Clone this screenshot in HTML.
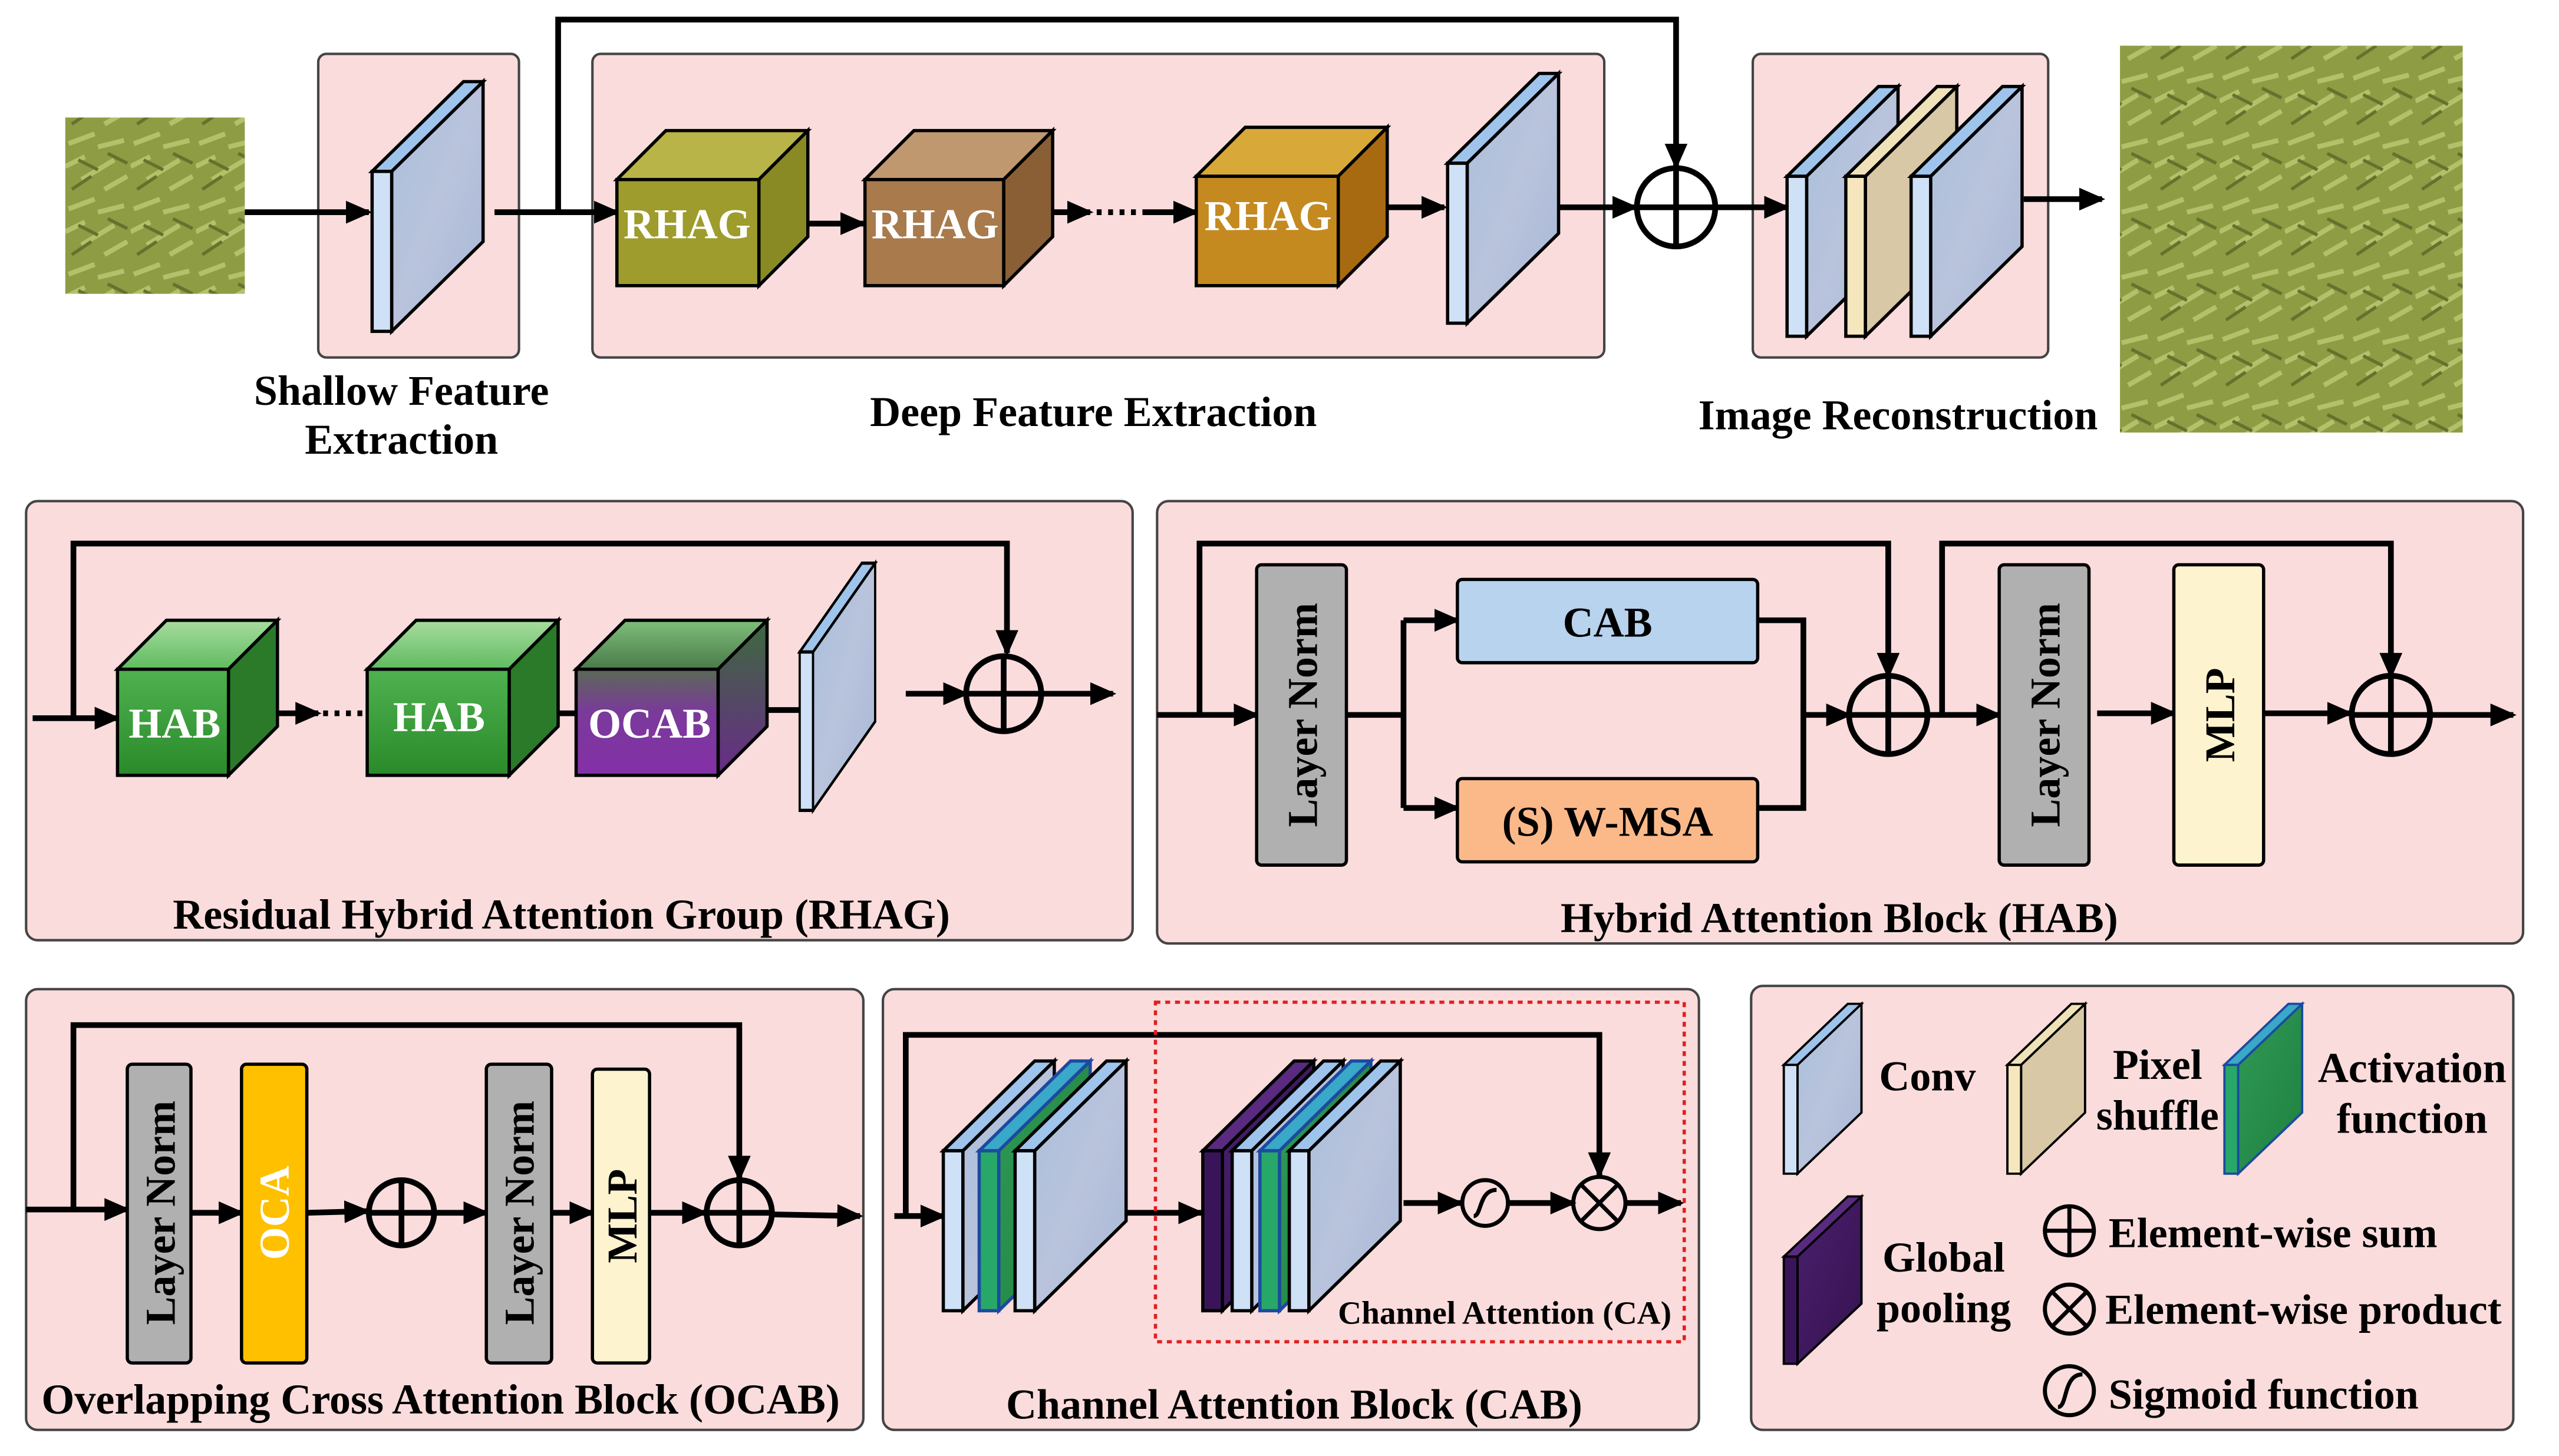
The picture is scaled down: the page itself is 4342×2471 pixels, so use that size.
<!DOCTYPE html>
<html><head><meta charset="utf-8"><style>
html,body{margin:0;padding:0;background:#fff;}
svg{display:block;}
text{font-family:"Liberation Serif",serif;font-weight:bold;fill:#000;}
</style></head><body>
<svg width="4342" height="2471" viewBox="0 0 1568 892" preserveAspectRatio="none" xmlns="http://www.w3.org/2000/svg">
<defs>
<marker id="ar" markerWidth="16" markerHeight="14" refX="14" refY="7" orient="auto" markerUnits="userSpaceOnUse"><path d="M0,0 L16,7 L0,14 z" fill="#000"/></marker>
<linearGradient id="blueSide" x1="0" y1="0" x2="1" y2="1"><stop offset="0" stop-color="#a9bfdc"/><stop offset="0.5" stop-color="#b9c3dc"/><stop offset="1" stop-color="#a8b8d6"/></linearGradient>
<linearGradient id="greenSide" x1="0" y1="0" x2="1" y2="1"><stop offset="0" stop-color="#2f9a55"/><stop offset="1" stop-color="#1f8040"/></linearGradient>
<linearGradient id="purpSide" x1="0" y1="0" x2="1" y2="1"><stop offset="0" stop-color="#4a1f6e"/><stop offset="1" stop-color="#36124f"/></linearGradient>
<linearGradient id="hab" x1="0" y1="0" x2="0" y2="1"><stop offset="0" stop-color="#4fb14f"/><stop offset="1" stop-color="#2a8a2a"/></linearGradient>
<linearGradient id="habTop" x1="0" y1="0" x2="0" y2="1"><stop offset="0" stop-color="#a8dca0"/><stop offset="1" stop-color="#5fbb5f"/></linearGradient>
<linearGradient id="ocabTop" x1="0" y1="0" x2="0" y2="1"><stop offset="0" stop-color="#7fbf7a"/><stop offset="1" stop-color="#4a7a4a"/></linearGradient>
<linearGradient id="ocabFront" x1="0" y1="0" x2="0" y2="1"><stop offset="0" stop-color="#5a6a55"/><stop offset="0.4" stop-color="#7a3a9a"/><stop offset="1" stop-color="#8430a8"/></linearGradient>
<linearGradient id="ocabSide" x1="0" y1="0" x2="0" y2="1"><stop offset="0" stop-color="#3c6a3c"/><stop offset="1" stop-color="#6a2a8a"/></linearGradient>
<g id="pBlue"><polygon points="12,55 68,0 68,98 12,153" fill="url(#blueSide)" stroke="#000" stroke-width="2"/><polygon points="0,55 56,0 68,0 12,55" fill="#9ec4ec" stroke="#000" stroke-width="2"/><rect x="0" y="55" width="12" height="98" fill="#cfe1f6" stroke="#000" stroke-width="2"/></g>
<g id="pBeige"><polygon points="12,55 68,0 68,98 12,153" fill="#d8c8a6" stroke="#000" stroke-width="2"/><polygon points="0,55 56,0 68,0 12,55" fill="#f0e2b8" stroke="#000" stroke-width="2"/><rect x="0" y="55" width="12" height="98" fill="#f5e6bd" stroke="#000" stroke-width="2"/></g>
<g id="pGreen"><polygon points="12,55 68,0 68,98 12,153" fill="url(#greenSide)" stroke="#1c4aa0" stroke-width="2"/><polygon points="0,55 56,0 68,0 12,55" fill="#3aa8c8" stroke="#1c4aa0" stroke-width="2"/><rect x="0" y="55" width="12" height="98" fill="#28a868" stroke="#1c4aa0" stroke-width="2"/></g>
<g id="pPurp"><polygon points="12,55 68,0 68,98 12,153" fill="url(#purpSide)" stroke="#000" stroke-width="2"/><polygon points="0,55 56,0 68,0 12,55" fill="#5a2a80" stroke="#000" stroke-width="2"/><rect x="0" y="55" width="12" height="98" fill="#3a1458" stroke="#000" stroke-width="2"/></g>
<pattern id="grass" width="40" height="40" patternUnits="userSpaceOnUse"><rect width="40" height="40" fill="#8e9c44"/><path d="M2,8 L18,2 M10,30 L30,18 M24,36 L38,28 M0,22 L12,16 M20,10 L36,6" stroke="#b4c06a" stroke-width="3"/><path d="M4,36 L16,28 M26,14 L38,20 M8,18 L20,24" stroke="#65722e" stroke-width="2"/></pattern>
</defs>

<g stroke="#444" stroke-width="1.5" fill="#fadcdc">
<rect x="195" y="33" width="123" height="186" rx="5"/>
<rect x="363" y="33" width="620" height="186" rx="5"/>
<rect x="1074" y="33" width="181" height="186" rx="5"/>
<rect x="16" y="307" width="678" height="269" rx="7"/>
<rect x="709" y="307" width="837" height="271" rx="7"/>
<rect x="16" y="606" width="513" height="270" rx="7"/>
<rect x="541" y="606" width="500" height="270" rx="7"/>
<rect x="1073" y="604" width="467" height="272" rx="7"/>
</g>

<rect x="40" y="72" width="110" height="108" fill="url(#grass)"/>
<rect x="1299" y="28" width="210" height="237" fill="url(#grass)"/>

<g stroke="#000" stroke-width="3.5" fill="none">
<line x1="150" y1="130" x2="226" y2="130" marker-end="url(#ar)"/>
<line x1="303" y1="130" x2="378" y2="130" marker-end="url(#ar)"/>
<polyline points="342,130 342,12 1027,12 1027,102" marker-end="url(#ar)"/>
<line x1="465" y1="137" x2="529" y2="137" marker-end="url(#ar)"/>
<line x1="645" y1="130" x2="668" y2="130" marker-end="url(#ar)"/>
<line x1="672" y1="130" x2="700" y2="130" stroke-dasharray="3,4"/>
<line x1="700" y1="130" x2="733" y2="130" marker-end="url(#ar)"/>
<line x1="850" y1="127" x2="885" y2="127" marker-end="url(#ar)"/>
<line x1="953" y1="127" x2="1002" y2="127" marker-end="url(#ar)"/>
<circle cx="1027" cy="127" r="24"/><line x1="1003" y1="127" x2="1051" y2="127"/><line x1="1027" y1="103" x2="1027" y2="151"/>
<line x1="1051" y1="127" x2="1095" y2="127" marker-end="url(#ar)"/>
<line x1="1240" y1="122" x2="1288" y2="122" marker-end="url(#ar)"/>

<line x1="20" y1="440" x2="72" y2="440" marker-end="url(#ar)"/>
<polyline points="45,440 45,333 617,333 617,400" marker-end="url(#ar)"/>
<line x1="170" y1="437" x2="195" y2="437" marker-end="url(#ar)"/>
<line x1="198" y1="437" x2="222" y2="437" stroke-dasharray="3,4"/>
<line x1="342" y1="437" x2="353" y2="437"/>
<line x1="470" y1="435" x2="490" y2="435"/>
<line x1="555" y1="425" x2="592" y2="425" marker-end="url(#ar)"/>
<circle cx="615" cy="425" r="23"/><line x1="592" y1="425" x2="638" y2="425"/><line x1="615" y1="402" x2="615" y2="448"/>
<line x1="638" y1="425" x2="682" y2="425" marker-end="url(#ar)"/>

<line x1="709" y1="438" x2="770" y2="438" marker-end="url(#ar)"/>
<polyline points="735,438 735,333 1157,333 1157,414" marker-end="url(#ar)"/>
<line x1="825" y1="438" x2="860" y2="438"/>
<polyline points="860,380 860,495"/>
<line x1="860" y1="380" x2="893" y2="380" marker-end="url(#ar)"/>
<line x1="860" y1="495" x2="893" y2="495" marker-end="url(#ar)"/>
<polyline points="1077,380 1105,380 1105,495 1077,495"/>
<line x1="1105" y1="438" x2="1133" y2="438" marker-end="url(#ar)"/>
<circle cx="1157" cy="438" r="24"/><line x1="1133" y1="438" x2="1181" y2="438"/><line x1="1157" y1="414" x2="1157" y2="462"/>
<line x1="1181" y1="438" x2="1225" y2="438" marker-end="url(#ar)"/>
<polyline points="1190,438 1190,333 1465,333 1465,414" marker-end="url(#ar)"/>
<line x1="1285" y1="437" x2="1332" y2="437" marker-end="url(#ar)"/>
<line x1="1387" y1="437" x2="1440" y2="437" marker-end="url(#ar)"/>
<circle cx="1465" cy="438" r="24"/><line x1="1441" y1="438" x2="1489" y2="438"/><line x1="1465" y1="414" x2="1465" y2="462"/>
<line x1="1489" y1="438" x2="1540" y2="438" marker-end="url(#ar)"/>

<line x1="16" y1="741" x2="78" y2="741" marker-end="url(#ar)"/>
<polyline points="45,741 45,628 453,628 453,722" marker-end="url(#ar)"/>
<line x1="117" y1="743" x2="148" y2="743" marker-end="url(#ar)"/>
<line x1="188" y1="743" x2="225" y2="742" marker-end="url(#ar)"/>
<circle cx="246" cy="743" r="20"/><line x1="226" y1="743" x2="266" y2="743"/><line x1="246" y1="723" x2="246" y2="763"/>
<line x1="266" y1="743" x2="298" y2="743" marker-end="url(#ar)"/>
<line x1="338" y1="743" x2="363" y2="743" marker-end="url(#ar)"/>
<line x1="398" y1="743" x2="432" y2="743" marker-end="url(#ar)"/>
<circle cx="453" cy="743" r="20"/><line x1="433" y1="743" x2="473" y2="743"/><line x1="453" y1="723" x2="453" y2="763"/>
<line x1="473" y1="744" x2="527" y2="745" marker-end="url(#ar)"/>

<polyline points="555,745 555,634 980,634 980,720" marker-end="url(#ar)"/>
<line x1="548" y1="745" x2="578" y2="745" marker-end="url(#ar)"/>
<line x1="690" y1="743" x2="736" y2="743" marker-end="url(#ar)"/>
<line x1="860" y1="737" x2="895" y2="737" marker-end="url(#ar)"/>
<line x1="925" y1="737" x2="964" y2="737" marker-end="url(#ar)"/>
<line x1="996" y1="737" x2="1030" y2="737" marker-end="url(#ar)"/>
</g>
<g stroke="#000" stroke-width="2.5" fill="none">
<circle cx="910" cy="737" r="14"/><path d="M903,745 C908,745 906,729 917,729"/>
<circle cx="980" cy="737" r="16"/><line x1="969" y1="726" x2="991" y2="748"/><line x1="991" y1="726" x2="969" y2="748"/>
</g>
<rect x="708" y="614" width="324" height="208" fill="none" stroke="#e02020" stroke-width="2" stroke-dasharray="3,3"/>

<use href="#pBlue" transform="translate(228,50)"/>
<use href="#pBlue" transform="translate(887,45)"/>
<use href="#pBlue" transform="translate(1095,53)"/>
<use href="#pBeige" transform="translate(1131,53)"/>
<use href="#pBlue" transform="translate(1171,53)"/>
<use href="#pBlue" transform="translate(490,345) scale(0.68,0.99)"/>
<use href="#pBlue" transform="translate(578,650)"/>
<use href="#pGreen" transform="translate(600,650)"/>
<use href="#pBlue" transform="translate(622,650)"/>
<use href="#pPurp" transform="translate(737,650)"/>
<use href="#pBlue" transform="translate(755,650)"/>
<use href="#pGreen" transform="translate(772,650)"/>
<use href="#pBlue" transform="translate(790,650)"/>
<use href="#pBlue" transform="translate(1093,615) scale(0.7,0.68)"/>
<use href="#pBeige" transform="translate(1230,615) scale(0.7,0.68)"/>
<use href="#pGreen" transform="translate(1363,615) scale(0.7,0.68)"/>
<use href="#pPurp" transform="translate(1093,733) scale(0.7,0.67)"/>

<g stroke="#000" stroke-width="2">
<polygon points="378,110 408,80 495,80 465,110" fill="#b8b448"/>
<polygon points="465,110 495,80 495,145 465,175" fill="#8a8a24"/>
<rect x="378" y="110" width="87" height="65" fill="#9e9c2c"/>
<polygon points="530,110 560,80 645,80 615,110" fill="#c09870"/>
<polygon points="615,110 645,80 645,145 615,175" fill="#8a5f35"/>
<rect x="530" y="110" width="85" height="65" fill="#a87a4c"/>
<polygon points="733,108 763,78 850,78 820,108" fill="#d8a838"/>
<polygon points="820,108 850,78 850,145 820,175" fill="#a86a10"/>
<rect x="733" y="108" width="87" height="67" fill="#c48a20"/>
<polygon points="72,410 102,380 170,380 140,410" fill="url(#habTop)"/>
<polygon points="140,410 170,380 170,445 140,475" fill="#2a7a2a"/>
<rect x="72" y="410" width="68" height="65" fill="url(#hab)"/>
<polygon points="225,410 255,380 342,380 312,410" fill="url(#habTop)"/>
<polygon points="312,410 342,380 342,445 312,475" fill="#2a7a2a"/>
<rect x="225" y="410" width="87" height="65" fill="url(#hab)"/>
<polygon points="353,410 383,380 470,380 440,410" fill="url(#ocabTop)"/>
<polygon points="440,410 470,380 470,445 440,475" fill="url(#ocabSide)"/>
<rect x="353" y="410" width="87" height="65" fill="url(#ocabFront)"/>
</g>

<g stroke="#000" stroke-width="2">
<rect x="770" y="346" width="55" height="184" rx="3" fill="#b0b0b0"/>
<rect x="1225" y="346" width="55" height="184" rx="3" fill="#b0b0b0"/>
<rect x="1332" y="346" width="55" height="184" rx="3" fill="#fdf3cf"/>
<rect x="893" y="355" width="184" height="51" rx="3" fill="#b7d3ee"/>
<rect x="893" y="477" width="184" height="51" rx="3" fill="#fbb98a"/>
<rect x="78" y="652" width="39" height="183" rx="3" fill="#b0b0b0"/>
<rect x="148" y="652" width="40" height="183" rx="3" fill="#ffc000"/>
<rect x="298" y="652" width="40" height="183" rx="3" fill="#b0b0b0"/>
<rect x="363" y="655" width="35" height="180" rx="3" fill="#fdf3cf"/>
</g>

<g font-size="26">
<text x="421" y="146" text-anchor="middle" style="fill:#fff">RHAG</text>
<text x="573" y="146" text-anchor="middle" style="fill:#fff">RHAG</text>
<text x="777" y="141" text-anchor="middle" style="fill:#fff">RHAG</text>
<text x="107" y="452" text-anchor="middle" style="fill:#fff">HAB</text>
<text x="269" y="448" text-anchor="middle" style="fill:#fff">HAB</text>
<text x="398" y="452" text-anchor="middle" style="fill:#fff">OCAB</text>
<text x="985" y="390" text-anchor="middle">CAB</text>
<text x="985" y="512" text-anchor="middle">(S) W-MSA</text>
<text transform="translate(807,438) rotate(-90)" text-anchor="middle">Layer Norm</text>
<text transform="translate(1262,438) rotate(-90)" text-anchor="middle">Layer Norm</text>
<text transform="translate(1369,438) rotate(-90)" text-anchor="middle">MLP</text>
<text transform="translate(107,743) rotate(-90)" text-anchor="middle">Layer Norm</text>
<text transform="translate(177,743) rotate(-90)" text-anchor="middle" style="fill:#fff">OCA</text>
<text transform="translate(327,743) rotate(-90)" text-anchor="middle">Layer Norm</text>
<text transform="translate(390,745) rotate(-90)" text-anchor="middle">MLP</text>
</g>

<g font-size="26" text-anchor="middle">
<text x="246" y="248">Shallow Feature</text>
<text x="246" y="278">Extraction</text>
<text x="670" y="261">Deep Feature Extraction</text>
<text x="1163" y="263">Image Reconstruction</text>
<text x="344" y="569">Residual Hybrid Attention Group (RHAG)</text>
<text x="1127" y="571">Hybrid Attention Block (HAB)</text>
<text x="270" y="866">Overlapping Cross Attention Block (OCAB)</text>
<text x="793" y="869">Channel Attention Block (CAB)</text>
<text x="1181" y="668">Conv</text>
<text x="1322" y="661">Pixel</text>
<text x="1322" y="692">shuffle</text>
<text x="1478" y="663">Activation</text>
<text x="1478" y="694">function</text>
<text x="1191" y="779">Global</text>
<text x="1191" y="810">pooling</text>
</g>
<text x="922" y="811" font-size="20" text-anchor="middle">Channel Attention (CA)</text>
<g font-size="26">
<text x="1292" y="764">Element-wise sum</text>
<text x="1290" y="811">Element-wise product</text>
<text x="1292" y="863">Sigmoid function</text>
</g>
<g stroke="#000" stroke-width="2.5" fill="none">
<circle cx="1268" cy="754" r="15"/><line x1="1253" y1="754" x2="1283" y2="754"/><line x1="1268" y1="739" x2="1268" y2="769"/>
<circle cx="1268" cy="802" r="15"/><line x1="1257" y1="791" x2="1279" y2="813"/><line x1="1279" y1="791" x2="1257" y2="813"/>
<circle cx="1268" cy="852" r="15"/><path d="M1261,862 C1267,862 1264,842 1276,842"/>
</g>
</svg>
</body></html>
